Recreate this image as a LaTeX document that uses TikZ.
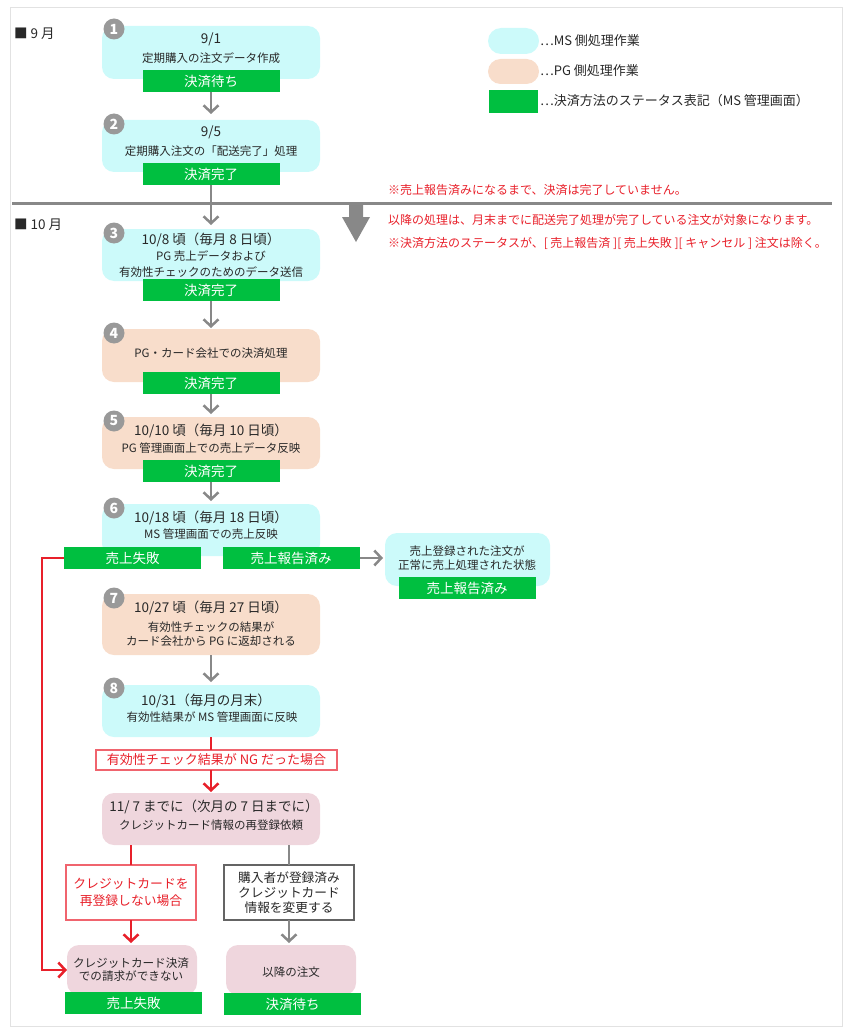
\documentclass[tikz,border=0pt]{standalone}
\usepackage{fontspec}
\setmainfont{Noto Sans CJK JP}
\usetikzlibrary{arrows.meta}
\definecolor{mscyan}{RGB}{204,250,250}
\definecolor{pgpeach}{RGB}{248,221,203}
\definecolor{mauve}{RGB}{239,214,221}
\definecolor{stgreen}{RGB}{0,191,64}
\definecolor{txtc}{RGB}{40,40,40}
\definecolor{agray}{RGB}{136,136,136}
\definecolor{cgray}{RGB}{153,153,153}
\definecolor{nred}{RGB}{232,32,42}
\definecolor{lred}{RGB}{240,100,110}
\definecolor{framec}{RGB}{226,226,226}
\definecolor{lgray}{RGB}{100,100,100}
\begin{document}
\begin{tikzpicture}[x=1pt,y=-1pt,
  every node/.style={inner sep=0pt, outer sep=0pt, text=txtc},
  boxbase/.style={rectangle, rounded corners=12pt, minimum width=218pt},
  msbox/.style={boxbase, fill=mscyan},
  pgbox/.style={boxbase, fill=pgpeach},
  mvbox/.style={boxbase, fill=mauve},
  stbar/.style={rectangle, fill=stgreen, minimum width=137pt, minimum height=22pt, text=white, font=\fontsize{13.5}{13.5}\selectfont},
  numc/.style={circle, fill=cgray, minimum size=21pt, text=white, font=\fontsize{14}{14}\selectfont\bfseries},
  ttltext/.style={font=\fontsize{13.5}{16}\selectfont},
  bodytext/.style={font=\fontsize{11.5}{15}\selectfont, align=center},
  rednote/.style={anchor=west, text=nred, font=\fontsize{12}{12}\selectfont},
  legtext/.style={anchor=west, font=\fontsize{13}{13}\selectfont},
  garr/.style={draw=agray, line width=2.5pt, -{Straight Barb[length=7pt,width=15pt]}},
  rarr/.style={draw=nred, line width=2.5pt, -{Straight Barb[length=7pt,width=15pt]}},
  rline/.style={draw=nred, line width=2.5pt},
  gline/.style={draw=agray, line width=2.5pt},
]
\useasboundingbox (0,0) rectangle (850,1035);
\draw[draw=framec, line width=1pt] (10.5,7.5) rectangle (842.5,1026.5);

% month labels
\node[anchor=west, font=\fontsize{13.5}{13.5}\selectfont] (m9) at (14,34) {■ 9 月};
\node[anchor=west, font=\fontsize{13.5}{13.5}\selectfont] (m10) at (14,225) {■ 10 月};

% separator and big arrow
\draw[agray, line width=3pt] (12,203) -- (832,203);
\fill[agray] (349,203) -- (363,203) -- (363,217) -- (370,217) -- (356,242) -- (342,217) -- (349,217) -- cycle;

% legend
\node[fill=mscyan, rounded corners=13pt, minimum width=51pt, minimum height=26pt] (lg1) at (513.5,41) {};
\node[legtext] (lt1) at (540,41) {⋯MS 側処理作業};
\node[fill=pgpeach, rounded corners=12.5pt, minimum width=51pt, minimum height=25pt] (lg2) at (513.5,71.5) {};
\node[legtext] (lt2) at (540,71) {⋯PG 側処理作業};
\node[fill=stgreen, minimum width=49pt, minimum height=23pt] (lg3) at (513.5,101.5) {};
\node[legtext] (lt3) at (540,101) {⋯決済方法のステータス表記（MS 管理画面）};

% red notes
\node[rednote] (rn1) at (388,190) {※売上報告済みになるまで、決済は完了していません。};
\node[rednote] (rn2) at (388,220) {以降の処理は、月末までに配送完了処理が完了している注文が対象になります。};
\node[rednote] (rn3) at (388,243) {※決済方法のステータスが、[ 売上報告済 ][ 売上失敗 ][ キャンセル ] 注文は除く。};

% Box 1
\node[msbox, minimum height=53pt] (b1) at (211,52.5) {};
\node[stbar] (s1) at (211,81) {決済待ち};
\node[ttltext] (t1) at (211,39) {9/1};
\node[bodytext] (d1) at (211,58) {定期購入の注文データ作成};
\node[numc] (n1) at (114,29) {1};

% Box 2
\node[msbox, minimum height=52pt] (b2) at (211,146) {};
\node[stbar] (s2) at (211,174) {決済完了};
\node[ttltext] (t2) at (211,132) {9/5};
\node[bodytext] (d2) at (211,151) {定期購入注文の「配送完了」処理};
\node[numc] (n2) at (114,124) {2};

% Box 3
\node[msbox, minimum height=52pt] (b3) at (211,255) {};
\node[stbar] (s3) at (211,290) {決済完了};
\node[ttltext] (t3) at (211,240) {10/8 頃（毎月 8 日頃）};
\node[bodytext, font=\fontsize{11.5}{16}\selectfont] (d3) at (211,264) {PG 売上データおよび\\有効性チェックのためのデータ送信};
\node[numc] (n3) at (114,233) {3};

% Box 4
\node[pgbox, minimum height=53pt] (b4) at (211,355.5) {};
\node[stbar] (s4) at (211,383) {決済完了};
\node[bodytext] (d4) at (211,353) {PG・カード会社での決済処理};
\node[numc] (n4) at (114,333) {4};

% Box 5
\node[pgbox, minimum height=52pt] (b5) at (211,443) {};
\node[stbar] (s5) at (211,471) {決済完了};
\node[ttltext] (t5) at (211,431) {10/10 頃（毎月 10 日頃）};
\node[bodytext] (d5) at (211,448) {PG 管理画面上での売上データ反映};
\node[numc] (n5) at (114,421) {5};

% Box 6
\node[msbox, minimum height=52pt] (b6) at (211,530) {};
\node[stbar] (s6a) at (132.5,558) {売上失敗};
\node[stbar] (s6b) at (291,558) {売上報告済み};
\node[ttltext] (t6) at (211,518) {10/18 頃（毎月 18 日頃）};
\node[bodytext] (d6) at (211,534) {MS 管理画面での売上反映};
\node[numc] (n6) at (114,508) {6};

% right box
\node[msbox, minimum width=165pt, minimum height=53pt] (r6) at (467.5,559.5) {};
\node[stbar] (s6r) at (467,588) {売上報告済み};
\node[bodytext, font=\fontsize{11.5}{14}\selectfont] (d6r) at (467,558) {売上登録された注文が\\正常に売上処理された状態};

% Box 7
\node[pgbox, minimum height=61pt] (b7) at (211,624.5) {};
\node[ttltext] (t7) at (211,608) {10/27 頃（毎月 27 日頃）};
\node[bodytext, font=\fontsize{11.5}{14}\selectfont] (d7) at (211,634) {有効性チェックの結果が\\カード会社から PG に返却される};
\node[numc] (n7) at (114,598) {7};

% Box 8
\node[msbox, minimum height=52pt] (b8) at (211,711) {};
\node[ttltext] (t8) at (206,701) {10/31（毎月の月末）};
\node[bodytext] (d8) at (212,717) {有効性結果が MS 管理画面に反映};
\node[numc] (n8) at (114,688) {8};

% NG label
\node[draw=lred, line width=1.2pt, fill=white, minimum width=241pt, minimum height=20pt, text=nred, font=\fontsize{13}{13}\selectfont] (ng) at (216.5,760) {有効性チェック結果が NG だった場合};

% Box 9
\node[mvbox, minimum height=52pt] (b9) at (211,819) {};
\node[ttltext] (t9) at (214,807) {11/ 7 までに（次月の 7 日までに）};
\node[bodytext] (d9) at (211,825) {クレジットカード情報の再登録依頼};

% red label and gray label
\node[draw=lred, line width=1.2pt, fill=white, minimum width=130pt, minimum height=55pt, text=nred, align=center, font=\fontsize{12.8}{17}\selectfont] (rl) at (131,892.5) {クレジットカードを\\再登録しない場合};
\node[draw=lgray, line width=1.2pt, fill=white, minimum width=130pt, minimum height=55pt, align=center, font=\fontsize{12.7}{14.7}\selectfont] (gl) at (289,892.5) {購入者が登録済み\\クレジットカード\\情報を変更する};

% Box 10 and 11
\node[mvbox, minimum width=130pt, minimum height=50pt] (b10) at (132,970) {};
\node[stbar] (s10) at (133.5,1003) {売上失敗};
\node[bodytext, font=\fontsize{11.6}{13.5}\selectfont] (d10) at (131,969.5) {クレジットカード決済\\での請求ができない};
\node[mvbox, minimum width=130pt, minimum height=50pt] (b11) at (291,970) {};
\node[stbar] (s11) at (292.5,1004) {決済待ち};
\node[bodytext] (d11) at (291,972) {以降の注文};

% connectors
\draw[garr, shorten >=6pt] (s1.south) -- (b2.north);
\draw[garr, shorten >=4pt] (s2.south) -- (b3.north);
\draw[garr, shorten >=1pt] (s3.south) -- (b4.north);
\draw[garr, shorten >=3pt] (s4.south) -- (b5.north);
\draw[garr, shorten >=3pt] (s5.south) -- (b6.north);
\draw[garr, shorten >=2pt] (s6b.east) -- (s6b.east -| r6.west);
\draw[garr, shorten >=3pt] (b7.south) -- (b8.north);
\draw[rline] (b8.south) -- (b8.south |- ng.north);
\draw[rarr, shorten >=1pt] (b9.north |- ng.south) -- (b9.north);
\draw[rline] (b9.south -| rl.north) -- (rl.north);
\draw[rarr, shorten >=2pt] (rl.south) -- (rl.south |- b10.north);
\draw[gline] (b9.south -| gl.north) -- (gl.north);
\draw[garr, shorten >=2pt] (gl.south) -- (gl.south |- b11.north);
\draw[rarr] (s6a.west) -- ++(-22,0) |- (b10.west);
\end{tikzpicture}
\end{document}
